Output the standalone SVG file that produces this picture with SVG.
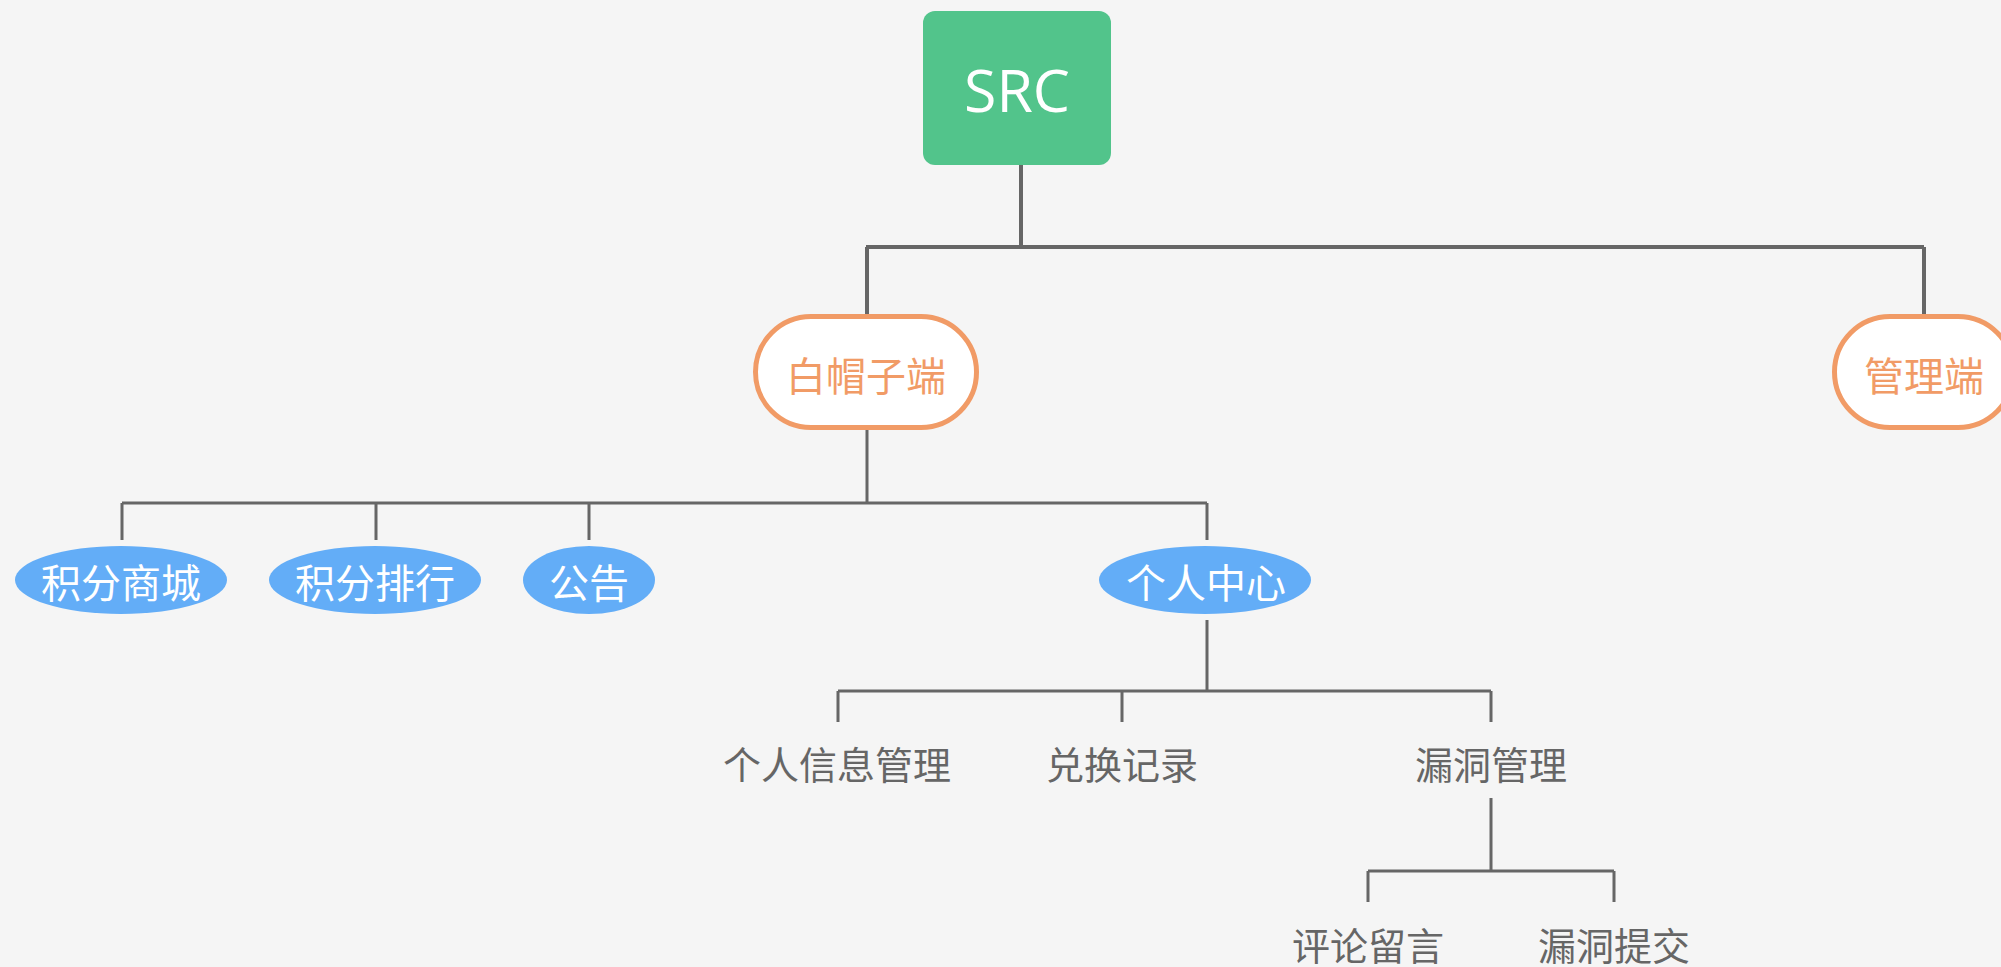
<svg xmlns="http://www.w3.org/2000/svg" width="2001" height="967" viewBox="0 0 2001 967">
<style>
.bg{fill:#F5F5F5}
.root{fill:#52C48B}
.rootTxt{font-family:"Open Sans","Liberation Sans",sans-serif;font-size:59px;fill:#FFFFFF;text-anchor:middle}
.pill{fill:#FFFFFF;stroke:#F19B66;stroke-width:5}
.pillTxt{font-family:"Noto Sans CJK SC",sans-serif;font-size:40px;fill:#F19B66;text-anchor:middle}
.ell{fill:#63ADF7}
.ellTxt{font-family:"Noto Sans CJK SC",sans-serif;font-size:40px;fill:#FFFFFF;text-anchor:middle}
.leafTxt{font-family:"Noto Sans CJK SC",sans-serif;font-size:38px;fill:#666666;text-anchor:middle}
.l1{fill:none;stroke:#666666;stroke-width:4}
.l2{fill:none;stroke:#666666;stroke-width:3}
</style>
<rect class="bg" x="0" y="0" width="2001" height="967"/>
<g id="connectors">
<path class="l1" d="M1021 165 V247 M866 247 H1924 M867 247 V314 M1924 247 V314"/>
<path class="l2" d="M867 430 V503 M122 503 H1207 M122 503 V540 M376 503 V540 M589 503 V540 M1207 503 V540"/>
<path class="l2" d="M1207 620 V691 M838 691 H1491 M838 691 V722 M1122 691 V722 M1491 691 V722"/>
<path class="l2" d="M1491 798 V871 M1368 871 H1614 M1368 871 V902 M1614 871 V902"/>
</g>
<g id="node-src">
<rect class="root" x="923" y="11" width="188" height="154" rx="12"/>
<text class="rootTxt" x="1017" y="112">SRC</text>
</g>
<g id="node-whitehat">
<rect class="pill" x="755.5" y="316.5" width="221" height="111" rx="55.5"/>
<text class="pillTxt" x="866" y="391">白帽子端</text>
</g>
<g id="node-admin">
<rect class="pill" x="1834.5" y="316.5" width="179" height="111" rx="55.5"/>
<text class="pillTxt" x="1924" y="391">管理端</text>
</g>
<g id="node-mall">
<ellipse class="ell" cx="121" cy="580" rx="106" ry="34"/>
<text class="ellTxt" x="121" y="598">积分商城</text>
</g>
<g id="node-rank">
<ellipse class="ell" cx="375" cy="580" rx="106" ry="34"/>
<text class="ellTxt" x="375" y="598">积分排行</text>
</g>
<g id="node-notice">
<ellipse class="ell" cx="589" cy="580" rx="66" ry="34"/>
<text class="ellTxt" x="589" y="598">公告</text>
</g>
<g id="node-center">
<ellipse class="ell" cx="1205" cy="580" rx="106" ry="34"/>
<text class="ellTxt" x="1206" y="598">个人中心</text>
</g>
<g id="node-info">
<text class="leafTxt" x="837" y="779">个人信息管理</text>
</g>
<g id="node-exchange">
<text class="leafTxt" x="1122" y="779">兑换记录</text>
</g>
<g id="node-vuln">
<text class="leafTxt" x="1491" y="779">漏洞管理</text>
</g>
<g id="node-comment">
<text class="leafTxt" x="1368" y="960">评论留言</text>
</g>
<g id="node-submit">
<text class="leafTxt" x="1614" y="960">漏洞提交</text>
</g>
</svg>
